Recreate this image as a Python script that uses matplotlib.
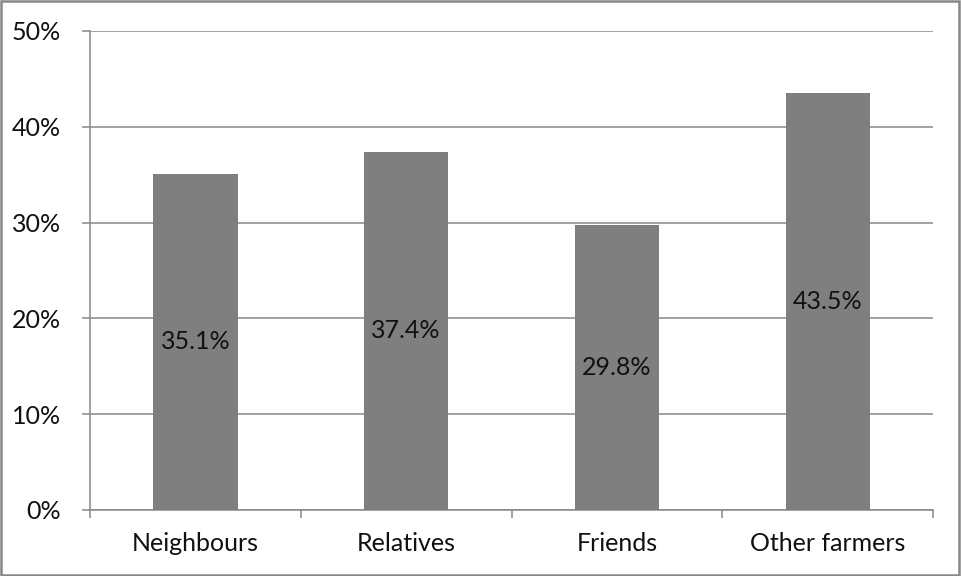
import matplotlib.pyplot as plt
from matplotlib.patches import Rectangle
from matplotlib.ticker import PercentFormatter

categories = ['Neighbours', 'Relatives', 'Friends', 'Other farmers']
shares = [35.1, 37.4, 29.8, 43.5]
y_ticks = [0, 10, 20, 30, 40, 50]

plt.rcParams['font.family'] = ['Lato', 'DejaVu Sans']

fig = plt.figure(figsize=(9.61, 5.76), dpi=100)
ax = fig.add_axes([0.0937, 0.1146, 0.8772, 0.8316])

# outer frame round the whole chart
fig.patches.append(Rectangle((0.001, 0.002), 0.997, 0.996, transform=fig.transFigure,
                             fill=False, edgecolor='#878787', linewidth=1.8))

x = range(len(categories))
bars = ax.bar(x, shares, width=0.4, color='#7f7f7f', zorder=3)
for b, v in zip(bars, shares):
    ax.text(b.get_x() + b.get_width() / 2, v / 2, f'{v:.1f}%',
            ha='center', va='center', fontsize=18, color='#111111', zorder=4)

ax.set_xlim(-0.5, len(categories) - 0.5)
ax.set_ylim(0, 50)
ax.set_yticks(y_ticks)
ax.yaxis.set_major_formatter(PercentFormatter(decimals=0))
ax.grid(axis='y', color='#878787', linewidth=1.1, zorder=0)

ax.set_xticks(list(x))
ax.set_xticklabels(categories)
ax.set_xticks([i - 0.5 for i in range(len(categories) + 1)], minor=True)
ax.tick_params(axis='x', which='major', length=0, pad=16, labelsize=18, labelcolor='#111111')
ax.tick_params(axis='x', which='minor', length=5.8, direction='out', color='#878787', width=1.1)
ax.tick_params(axis='y', length=5.8, direction='out', color='#878787', width=1.1,
               labelsize=18, labelcolor='#111111', pad=15)

for side in ['top', 'right']:
    ax.spines[side].set_visible(False)
for side in ['left', 'bottom']:
    ax.spines[side].set_color('#878787')
    ax.spines[side].set_linewidth(1.1)

fig.savefig('out.png', dpi=100)
